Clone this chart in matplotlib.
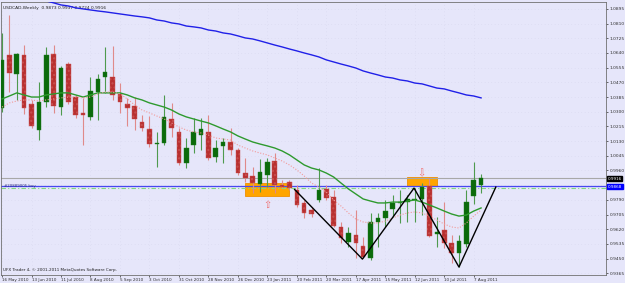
import numpy as np
import matplotlib.pyplot as plt
from matplotlib.patches import Rectangle

# weekly USDCAD candles, 16 May 2010 .. 14 Aug 2011
opens = [1.0322, 1.0629, 1.0519, 1.0629, 1.0345, 1.0194, 1.0356, 1.0634, 1.0327, 1.0576,
         1.0385, 1.0293, 1.0270, 1.0414, 1.0501, 1.0501, 1.0403, 1.0345, 1.0333, 1.0241,
         1.0200, 1.0113, 1.0119, 1.0258, 1.0183, 1.0003, 1.0107, 1.0165, 1.0183, 1.0038,
         1.0102, 1.0125, 1.0079, 0.9945, 0.9928, 0.9882, 0.9934, 1.0015, 0.9876, 0.9893,
         0.9847, 0.9772, 0.9731, 0.9789, 0.9853, 0.9806, 0.9633, 0.9546, 0.9586, 0.9523,
         0.9453, 0.9662, 0.9685, 0.9737, 0.9772, 0.9777, 0.9789, 0.9795, 0.9870, 0.9592,
         0.9615, 0.9540, 0.9482, 0.9534, 0.9812, 0.9873]
highs = [1.0756, 1.0860, 1.0640, 1.0686, 1.0368, 1.0472, 1.0675, 1.0686, 1.0565, 1.0588,
         1.0397, 1.0380, 1.0501, 1.0519, 1.0675, 1.0681, 1.0466, 1.0380, 1.0385, 1.0281,
         1.0275, 1.0183, 1.0397, 1.0351, 1.0206, 1.0148, 1.0264, 1.0264, 1.0281, 1.0136,
         1.0148, 1.0206, 1.0090, 1.0032, 0.9980, 1.0026, 1.0032, 1.0061, 0.9905, 0.9905,
         0.9876, 0.9789, 0.9749, 0.9974, 0.9876, 0.9847, 0.9662, 0.9633, 0.9731, 0.9575,
         0.9714, 0.9714, 0.9789, 0.9818, 0.9847, 0.9818, 0.9858, 0.9887, 0.9916, 0.9691,
         0.9777, 0.9586, 0.9586, 0.9847, 1.0009, 0.9937]
lows = [1.0299, 1.0414, 1.0368, 1.0287, 1.0206, 1.0136, 1.0327, 1.0293, 1.0281, 1.0345,
        1.0264, 1.0107, 1.0252, 1.0252, 1.0409, 1.0368, 1.0293, 1.0218, 1.0194, 1.0188,
        1.0096, 0.9980, 1.0107, 1.0154, 0.9992, 0.9974, 1.0061, 1.0079, 1.0021, 1.0009,
        1.0003, 1.0050, 0.9934, 0.9893, 0.9830, 0.9835, 0.9864, 0.9830, 0.9858, 0.9847,
        0.9749, 0.9685, 0.9691, 0.9777, 0.9789, 0.9633, 0.9540, 0.9517, 0.9453, 0.9453,
        0.9442, 0.9517, 0.9633, 0.9691, 0.9656, 0.9662, 0.9662, 0.9702, 0.9575, 0.9517,
        0.9511, 0.9424, 0.9401, 0.9517, 0.9766, 0.9830]
closes = [1.0600, 1.0524, 1.0634, 1.0322, 1.0218, 1.0356, 1.0629, 1.0333, 1.0553, 1.0356,
          1.0281, 1.0281, 1.0420, 1.0490, 1.0530, 1.0397, 1.0356, 1.0322, 1.0258, 1.0206,
          1.0113, 1.0119, 1.0270, 1.0206, 1.0003, 1.0090, 1.0183, 1.0200, 1.0032, 1.0090,
          1.0125, 1.0079, 0.9945, 0.9916, 0.9887, 0.9951, 1.0009, 0.9876, 0.9864, 0.9858,
          0.9760, 0.9714, 0.9708, 0.9847, 0.9801, 0.9638, 0.9569, 0.9598, 0.9540, 0.9459,
          0.9662, 0.9685, 0.9725, 0.9772, 0.9777, 0.9795, 0.9795, 0.9864, 0.9581, 0.9604,
          0.9540, 0.9482, 0.9552, 0.9777, 0.9905, 0.9916]

ma_green = [1.0374, 1.0391, 1.0409, 1.0397, 1.0385, 1.0385, 1.0397, 1.0403, 1.0409, 1.0409,
            1.0397, 1.0385, 1.0397, 1.0409, 1.0409, 1.0409, 1.0409, 1.0397, 1.0380, 1.0368,
            1.0351, 1.0339, 1.0327, 1.0310, 1.0287, 1.0270, 1.0258, 1.0246, 1.0235, 1.0218,
            1.0200, 1.0183, 1.0160, 1.0142, 1.0125, 1.0113, 1.0102, 1.0090, 1.0073, 1.0050,
            1.0021, 0.9992, 0.9974, 0.9963, 0.9945, 0.9922, 0.9887, 0.9853, 0.9824, 0.9795,
            0.9783, 0.9772, 0.9772, 0.9777, 0.9777, 0.9783, 0.9789, 0.9777, 0.9760, 0.9743,
            0.9725, 0.9708, 0.9696, 0.9702, 0.9725, 0.9743]
ma_pink = [1.0327, 1.0351, 1.0362, 1.0368, 1.0368, 1.0362, 1.0368, 1.0374, 1.0380, 1.0385,
           1.0385, 1.0380, 1.0385, 1.0403, 1.0414, 1.0414, 1.0403, 1.0374, 1.0339, 1.0310,
           1.0293, 1.0275, 1.0258, 1.0235, 1.0212, 1.0194, 1.0183, 1.0177, 1.0165, 1.0148,
           1.0142, 1.0136, 1.0107, 1.0090, 1.0073, 1.0061, 1.0050, 1.0032, 1.0015, 0.9992,
           0.9963, 0.9928, 0.9887, 0.9864, 0.9835, 0.9789, 0.9754, 0.9714, 0.9679, 0.9662,
           0.9656, 0.9656, 0.9667, 0.9685, 0.9702, 0.9714, 0.9720, 0.9714, 0.9696, 0.9673,
           0.9650, 0.9633, 0.9627, 0.9656, 0.9696, 0.9731]
blue_start = 4
ma_blue = [1.0959, 1.0953, 1.0941, 1.0930, 1.0918, 1.0912, 1.0901, 1.0895, 1.0889, 1.0883,
           1.0878, 1.0872, 1.0866, 1.0860, 1.0854, 1.0849, 1.0843, 1.0831, 1.0825, 1.0814,
           1.0808, 1.0796, 1.0791, 1.0785, 1.0773, 1.0767, 1.0756, 1.0750, 1.0739, 1.0727,
           1.0721, 1.0710, 1.0698, 1.0686, 1.0675, 1.0663, 1.0652, 1.0640, 1.0629, 1.0617,
           1.0600, 1.0588, 1.0576, 1.0565, 1.0553, 1.0536, 1.0524, 1.0513, 1.0501, 1.0495,
           1.0484, 1.0478, 1.0466, 1.0461, 1.0449, 1.0437, 1.0432, 1.0420, 1.0409, 1.0397,
           1.0391, 1.0380]

date_labels = ["16 May 2010", "13 Jun 2010", "11 Jul 2010", "8 Aug 2010", "5 Sep 2010",
               "3 Oct 2010", "31 Oct 2010", "28 Nov 2010", "26 Dec 2010", "23 Jan 2011",
               "20 Feb 2011", "20 Mar 2011", "17 Apr 2011", "15 May 2011", "12 Jun 2011",
               "10 Jul 2011", "7 Aug 2011"]
price_ticks = [0.9365, 0.9450, 0.9535, 0.9620, 0.9705, 0.9790, 0.9875, 0.9960, 1.0045,
               1.0130, 1.0215, 1.0300, 1.0385, 1.0470, 1.0555, 1.0640, 1.0725, 1.0810, 1.0895]

bid = 0.9916
order_price = 0.9868
order_level = 0.9856

# drawn objects
zz_x = [39.7, 48.9, 55.9, 62.0, 67.0]
zz_y = [0.9850, 0.9447, 0.9858, 0.9401, 0.9864]
box1 = (33.0, 38.9, 0.9812, 0.9889)
box2 = (55.0, 59.0, 0.9870, 0.9922)

bg = '#E6E6FA'
fig = plt.figure(figsize=(6.25, 2.83), dpi=100, facecolor=bg)
ax = fig.add_axes([1 / 625, 8 / 283, 605 / 625, 273 / 283], facecolor=bg)

n = len(opens)
idx = np.arange(n)
o = np.array(opens); h = np.array(highs); l = np.array(lows); c = np.array(closes)
up = c >= o

# orange boxes behind candles
for x0, x1, y0, y1 in (box1, box2):
    ax.add_patch(Rectangle((x0, y0), x1 - x0, y1 - y0, facecolor='#FFA500',
                           edgecolor='#F09000', lw=0.6, zorder=1))

ax.vlines(idx[up], l[up], h[up], color='#4E9A4E', lw=0.8, zorder=3)
ax.vlines(idx[~up], l[~up], h[~up], color='#E08A8A', lw=0.8, zorder=3)
ax.bar(idx[up], c[up] - o[up], bottom=o[up], width=0.62, color='#0B6A0B',
       edgecolor='#1E7A1E', lw=0.3, zorder=4)
ax.bar(idx[~up], o[~up] - c[~up], bottom=c[~up], width=0.62, color='#B83030',
       edgecolor='#C85050', lw=0.3, zorder=4, hatch='....')

ax.plot(idx, ma_green, color='#2E9A2E', lw=1.0, zorder=5)
ax.plot(idx, ma_pink, color='#F29A9A', lw=0.8, ls=(0, (1, 1.5)), zorder=5)
ax.plot(np.arange(blue_start, blue_start + len(ma_blue)), ma_blue, color='#2020E8', lw=1.0, zorder=5)

ax.axhline(bid, color='#A8A8A8', lw=0.8, zorder=2)
ax.axhline(order_price, color='#4848F0', lw=0.9, zorder=2)
ax.axhline(order_level, color='#80D880', lw=0.8, ls=(0, (4, 2, 1, 2)), zorder=2)

ax.plot(zz_x, zz_y, color='black', lw=1.0, zorder=6)

ax.text(36.0, 0.9760, '\u21e7', color='#F07070', fontsize=7, ha='center', va='center', zorder=7)
ax.text(56.9, 0.9945, '\u21e9', color='#F07070', fontsize=7, ha='center', va='center', zorder=7)

ax.text(0.3, order_price + 0.0004, '#20889005 buy', color='#303080', fontsize=2.8,
        ha='left', va='center', zorder=7)
ax.text(0.004, 0.985, 'USDCAD,Weekly  0.9873 0.9937 0.9724 0.9916', transform=ax.transAxes,
        fontsize=3.2, color='#202020', ha='left', va='top')
ax.text(0.004, 0.012, 'UFX Trader 4, \u00a9 2001-2011 MetaQuotes Software Corp.', transform=ax.transAxes,
        fontsize=3.0, color='#202020', ha='left', va='bottom')

ax.set_xlim(-0.14, 81.95)
ax.set_ylim(0.9355, 1.0935)

ax.yaxis.tick_right()
ax.set_yticks(price_ticks)
# the 0.9875 label sits under the bid price box
ax.set_yticklabels(['' if v == 0.9875 else f'{v:.4f}' for v in price_ticks])
ax.set_xticks(np.arange(0, 4 * len(date_labels), 4))
ax.set_xticklabels(date_labels, ha='left')
ax.tick_params(axis='y', labelsize=3.2, length=1.5, width=0.5, pad=1.2, colors='#303030')
ax.tick_params(axis='x', labelsize=3.0, length=1.5, width=0.5, pad=1.0, colors='#303030')
ax.grid(True, color='#CFCFE6', lw=0.4, ls=(0, (1, 5)))
ax.set_axisbelow(True)
for s in ax.spines.values():
    s.set_color('#707070')
    s.set_linewidth(0.6)

# price labels on the axis
ax.text(1.003, bid, '0.9916', transform=ax.get_yaxis_transform(), fontsize=3.0, color='white',
        ha='left', va='center_baseline', bbox=dict(boxstyle='square,pad=0.1', fc='black', ec='black'),
        clip_on=False, zorder=8)
ax.text(1.003, order_price, '0.9868', transform=ax.get_yaxis_transform(), fontsize=3.0, color='white',
        ha='left', va='center_baseline', bbox=dict(boxstyle='square,pad=0.1', fc='#0000FF', ec='#0000FF'),
        clip_on=False, zorder=8)

fig.savefig('out.png', dpi=100, facecolor=bg)
